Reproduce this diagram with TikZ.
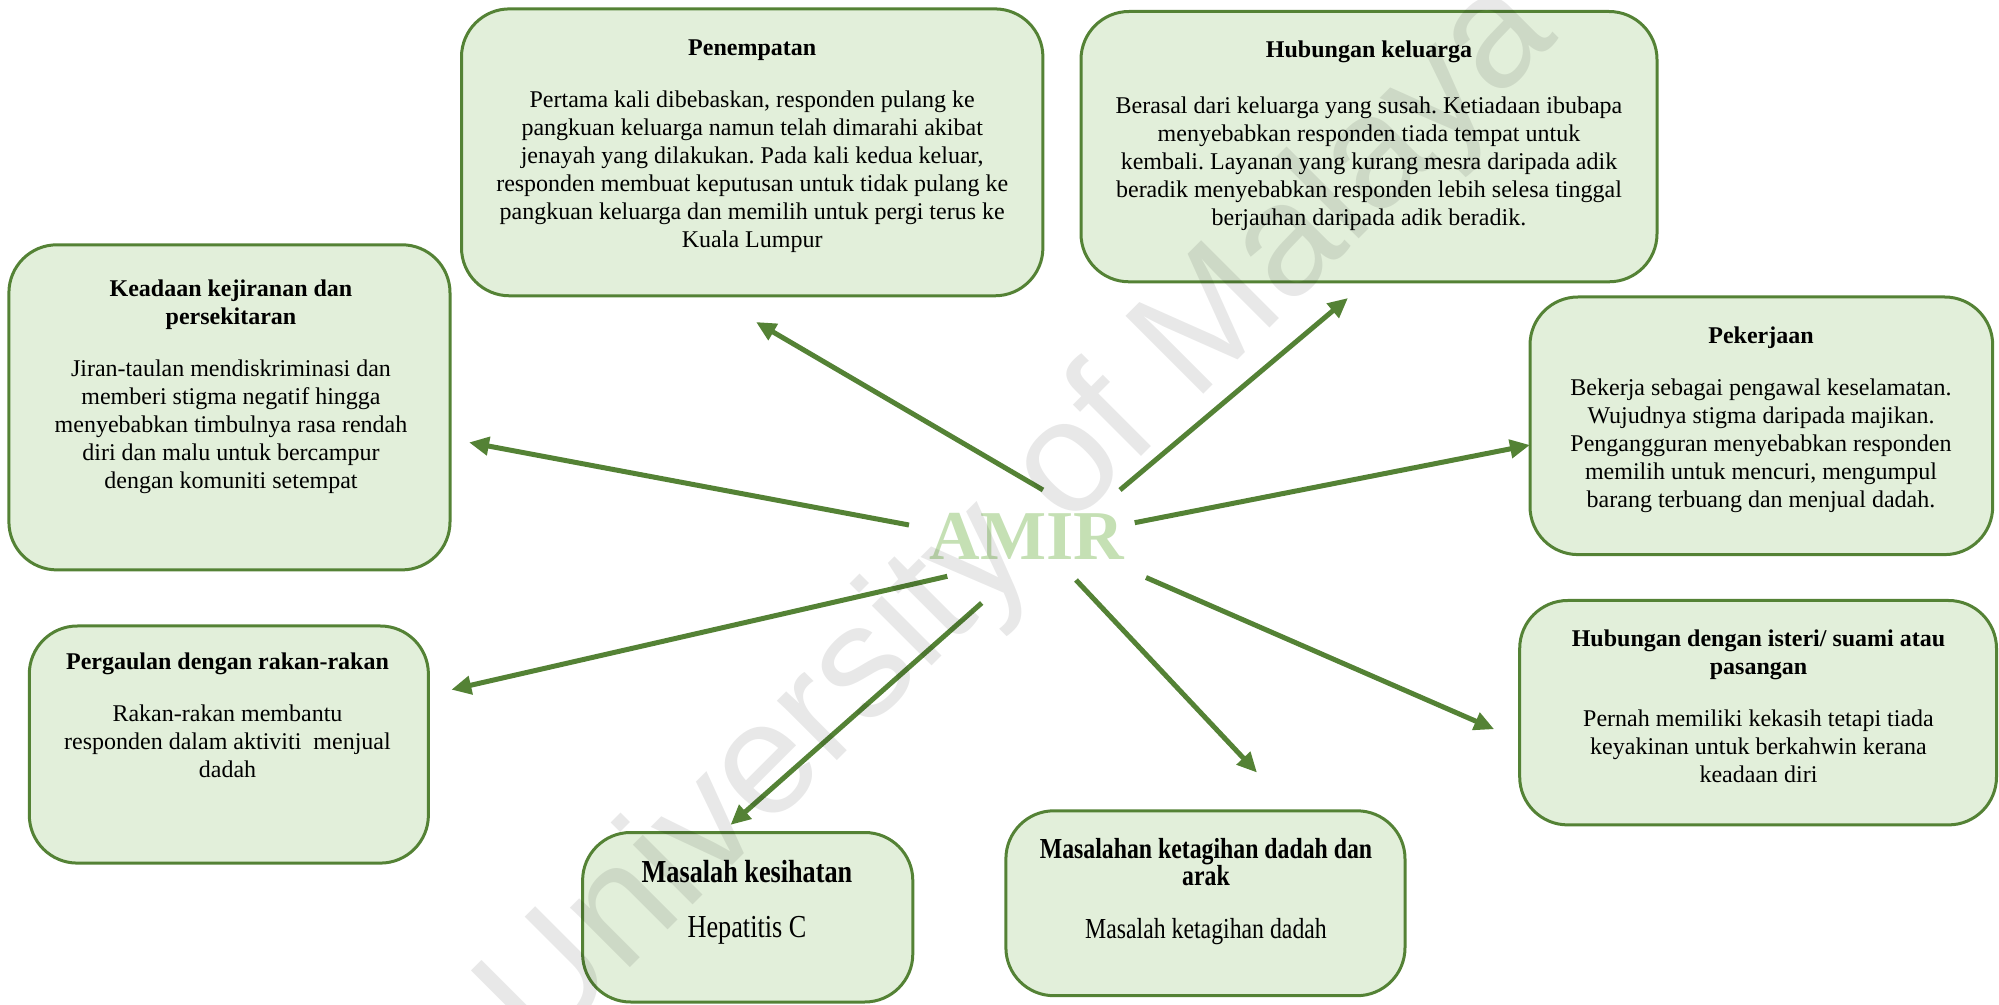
\documentclass[tikz,border=0pt]{standalone}
\usepackage{fontspec}
\setmainfont{Liberation Serif}
\newfontfamily\condfont{Liberation Serif}[FakeStretch=0.82]
\newfontfamily\wmfont{Liberation Sans}
\usetikzlibrary{arrows.meta}
\definecolor{bordergreen}{RGB}{84,130,53}
\definecolor{fillgreen}{RGB}{226,239,218}
\definecolor{amirgreen}{RGB}{197,224,180}
\frenchspacing
\begin{document}
\begin{tikzpicture}[x=0.5pt,y=-0.5pt,
  box/.style={draw=bordergreen, fill=fillgreen, line width=1.5pt, rounded corners=24pt, inner sep=0pt},
  txt/.style={align=center, inner sep=0pt, anchor=north, font=\fontsize{12}{14}\selectfont, text=black},
  arr/.style={draw=bordergreen, line width=2.5pt, -{Triangle[length=10pt,width=9pt]}},
]
\useasboundingbox (0,0) rectangle (1999,1005);
\clip (0,0) rectangle (1999,1005);

% boxes
\node[box, minimum width=290.7pt, minimum height=143.45pt] (b1) at (752.2,152.35) {};
\node[box, minimum width=288pt, minimum height=135.15pt] (b2) at (1369,146.65) {};
\node[box, minimum width=220.55pt, minimum height=162.55pt] (b3) at (229.45,407.35) {};
\node[box, minimum width=231.35pt, minimum height=128.8pt] (b4) at (1761.35,425.8) {};
\node[box, minimum width=238.4pt, minimum height=112.2pt] (b5) at (1758.1,712.7) {};
\node[box, minimum width=199.55pt, minimum height=118.55pt] (b6) at (228.85,744.55) {};
\node[box, minimum width=165.1pt, minimum height=84.75pt] (b7) at (747.7,917.25) {};
\node[box, minimum width=199.55pt, minimum height=92.45pt] (b8) at (1205.45,903.25) {};

% texts
\node[txt] (t1) at (752.2,39) {\textbf{Penempatan}\\[12pt]
Pertama kali dibebaskan, responden pulang ke\\
pangkuan keluarga namun telah dimarahi akibat\\
jenayah yang dilakukan. Pada kali kedua keluar,\\
responden membuat keputusan untuk tidak pulang ke\\
pangkuan keluarga dan memilih untuk pergi terus ke\\
Kuala Lumpur};
\node[txt] (t2) at (1369,40) {\textbf{Hubungan keluarga}\\[14pt]
Berasal dari keluarga yang susah. Ketiadaan ibubapa\\
menyebabkan responden tiada tempat untuk\\
kembali. Layanan yang kurang mesra daripada adik\\
beradik menyebabkan responden lebih selesa tinggal\\
berjauhan daripada adik beradik.};
\node[txt] (t3) at (231,279) {\textbf{Keadaan kejiranan dan}\\
\textbf{persekitaran}\\[12pt]
Jiran-taulan mendiskriminasi dan\\
memberi stigma negatif hingga\\
menyebabkan timbulnya rasa rendah\\
diri dan malu untuk bercampur\\
dengan komuniti setempat};
\node[txt] (t4) at (1761,326) {\textbf{Pekerjaan}\\[12pt]
Bekerja sebagai pengawal keselamatan.\\
Wujudnya stigma daripada majikan.\\
Pengangguran menyebabkan responden\\
memilih untuk mencuri, mengumpul\\
barang terbuang dan menjual dadah.};
\node[txt] (t5) at (1758.5,629) {\textbf{Hubungan dengan isteri/ suami atau}\\
\textbf{pasangan}\\[12pt]
Pernah memiliki kekasih tetapi tiada\\
keyakinan untuk berkahwin kerana\\
keadaan diri};
\node[txt] (t6) at (227.5,652) {\textbf{Pergaulan dengan rakan-rakan}\\[12pt]
Rakan-rakan membantu\\
responden dalam aktiviti\ \ menjual\\
dadah};
\node[txt, font=\condfont\fontsize{16}{19}\selectfont] (t7) at (747,860) {\textbf{Masalah kesihatan}\\[8.5pt]
Hepatitis C};
\node[txt, font=\condfont\fontsize{14.5}{13.5}\selectfont] (t8) at (1206,838) {\textbf{Masalahan ketagihan dadah dan}\\
\textbf{arak}\\[13pt]
Masalah ketagihan dadah};

% centre
\node[anchor=base, inner sep=0pt, text=amirgreen, font=\bfseries\fontsize{35}{35}\selectfont] (amir) at (1026.7,559.8) {AMIR};

% arrow ends
\coordinate (s1) at (1043,490);   \coordinate (e1) at (756,322);
\coordinate (s2) at (1120,490);   \coordinate (e2) at (1348,298);
\coordinate (s3) at (909,525);    \coordinate (e3) at (469,442.4);
\coordinate (s4) at (1134.7,522.7); \coordinate (e4) at (1530,445);
\coordinate (s5) at (947.3,576.3);  \coordinate (e5) at (451.3,689.7);
\coordinate (s6) at (981.7,603);    \coordinate (e6) at (730.5,824.9);
\coordinate (s7) at (1076,580);     \coordinate (e7) at (1257,772.6);
\coordinate (s8) at (1146,577.5);   \coordinate (e8) at (1494.2,729.2);
\foreach \i in {1,...,8} {\draw[arr] (s\i) -- (e\i);}

% watermark
\node[font=\wmfont\fontsize{80}{80}\selectfont, text=black, text opacity=0.09, rotate=45, anchor=base, inner sep=0pt] (wm) at (1050,548) {University of Malaya};
\end{tikzpicture}
\end{document}
